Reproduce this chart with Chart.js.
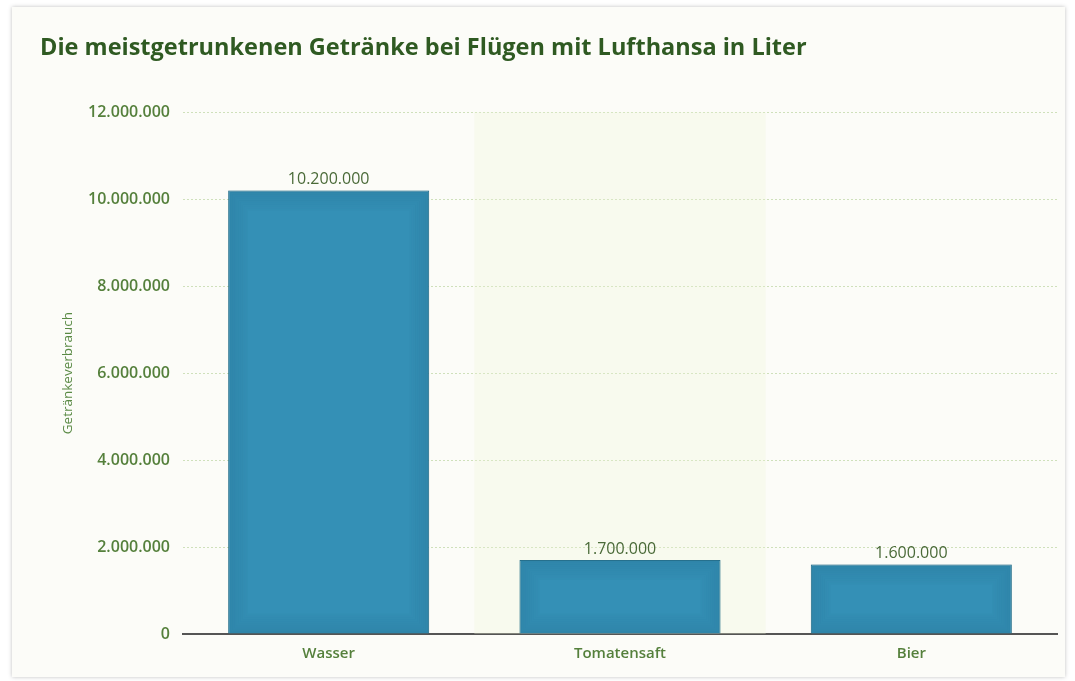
<!DOCTYPE html>
<html>
<head>
<meta charset="utf-8">
<title>Getränke Lufthansa</title>
<script src="https://cdn.jsdelivr.net/npm/chart.js@4.4.1/dist/chart.umd.min.js"></script>
<style>
    html, body { margin: 0; padding: 0; background: #ffffff; }
    #card {
        position: absolute;
        left: 12px;
        top: 7px;
        width: 1053px;
        height: 670px;
        background: #fcfcf8;
        box-shadow: 0 0 4px rgba(0, 0, 0, 0.25);
    }
</style>
</head>
<body>
<div id="card"><canvas id="drinksChart"></canvas></div>
<script>
// chart data
const categories = ['Wasser', 'Tomatensaft', 'Bier'];
const litres = [10200000, 1700000, 1600000];
const yTicks = [0, 2000000, 4000000, 6000000, 8000000, 10000000, 12000000];

const titleText = 'Die meistgetrunkenen Getränke bei Flügen mit Lufthansa in Liter';
const yAxisTitle = 'Getränkeverbrauch';

const textGreen = '#55803c';
const fontFamily = "'Open Sans', 'Noto Sans', sans-serif";

// 10200000 -> "10.200.000"
function formatDE(value) {
    return String(value).replace(/\B(?=(\d{3})+(?!\d))/g, '.');
}

// light band behind the middle category
const bandPlugin = {
    id: 'band',
    beforeDatasetsDraw(chart) {
        const x = chart.scales.x;
        const area = chart.chartArea;
        const step = x.getPixelForValue(1) - x.getPixelForValue(0);
        const cx = x.getPixelForValue(1);
        const ctx = chart.ctx;
        ctx.save();
        ctx.fillStyle = 'rgba(240, 244, 215, 0.3)';
        ctx.fillRect(cx - step / 2, area.top, step, area.bottom - area.top);
        ctx.restore();
    }
};

// soft dark edges inside each bar + value labels above
const barDecor = {
    id: 'barDecor',
    afterDatasetsDraw(chart) {
        const ctx = chart.ctx;
        const meta = chart.getDatasetMeta(0);
        ctx.save();
        meta.data.forEach(bar => {
            const left = bar.x - bar.width / 2;
            const top = bar.y;
            const w = bar.width;
            const h = bar.base - bar.y;
            for (let k = 0; k < 10; k++) {
                ctx.strokeStyle = 'rgba(20, 70, 95, ' + (0.14 - k * 0.013) + ')';
                ctx.lineWidth = 2;
                ctx.strokeRect(left + 1 + k * 2, top + 1 + k * 2,
                    Math.max(0, w - 2 - k * 4), Math.max(0, h - 2 - k * 4));
            }
        });
        ctx.font = '16px ' + fontFamily;
        ctx.fillStyle = '#4a6a38';
        ctx.textAlign = 'center';
        ctx.textBaseline = 'bottom';
        meta.data.forEach((bar, i) => {
            ctx.fillText(formatDE(litres[i]), bar.x, bar.y - 3);
        });
        ctx.restore();
    }
};

const ctx = document.getElementById('drinksChart').getContext('2d');
new Chart(ctx, {
    type: 'bar',
    data: {
        labels: categories,
        datasets: [{
            label: yAxisTitle,
            data: litres,
            backgroundColor: '#3490b6',
            borderColor: '#2a7795',
            borderWidth: 1,
            borderSkipped: 'bottom',
            barPercentage: 0.69,
            categoryPercentage: 1.0
        }]
    },
    options: {
        responsive: true,
        maintainAspectRatio: false,
        animation: false,
        layout: {
            padding: { left: 28, right: 8, top: 0, bottom: 12 }
        },
        plugins: {
            legend: { display: false },
            tooltip: { enabled: false },
            title: {
                display: true,
                text: titleText,
                align: 'start',
                color: '#2f5a22',
                font: { family: fontFamily, size: 23.5, weight: 'bold' },
                padding: { top: 27, bottom: 50 }
            }
        },
        scales: {
            x: {
                grid: { display: false, drawTicks: false },
                border: { display: true, color: '#555555', width: 2 },
                ticks: {
                    color: textGreen,
                    font: { family: fontFamily, size: 15, weight: '600' },
                    padding: 11
                },
                afterFit(scale) { scale.height = 31; }
            },
            y: {
                min: 0,
                max: 12000000,
                afterBuildTicks(scale) {
                    scale.ticks = yTicks.map(v => ({ value: v }));
                },
                grid: {
                    color: '#cfe0bb',
                    drawTicks: false
                },
                border: { display: false, dash: [2, 2] },
                ticks: {
                    color: textGreen,
                    font: { family: fontFamily, size: 16, weight: '600' },
                    padding: 13,
                    callback: v => formatDE(v)
                },
                title: {
                    display: true,
                    text: yAxisTitle,
                    color: '#5a8a45',
                    font: { family: fontFamily, size: 13.5 },
                    padding: { top: 20, bottom: 0 }
                },
                afterFit(scale) { scale.width = 143; }
            }
        }
    },
    plugins: [bandPlugin, barDecor]
});
</script>
</body>
</html>
